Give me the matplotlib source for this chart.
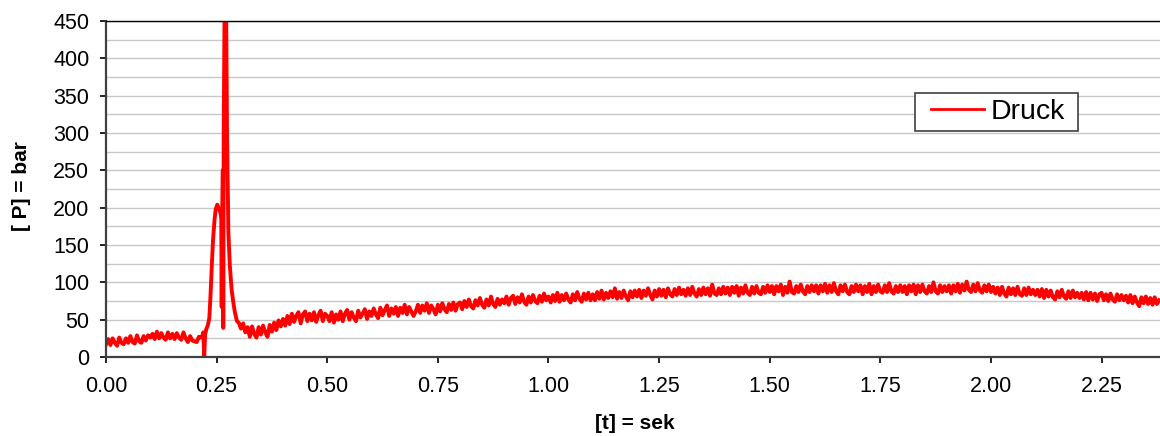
import numpy as np
import matplotlib.pyplot as plt
from matplotlib.patches import Rectangle

plt.rcParams['font.family'] = ['Liberation Sans', 'DejaVu Sans']

# pressure before ignition, t = 0.000 .. 0.215 (step 0.005)
pre_p = [17, 24, 16, 25, 19, 15, 26, 19, 17, 25, 19, 28, 20, 18, 29, 21, 19, 28, 22, 29,
         26, 31, 24, 34, 25, 32, 26, 23, 33, 25, 31, 24, 32, 26, 23, 33, 25, 20, 28, 22,
         21, 20, 27, 26]

# pressure peak region, irregular sampling
spike_t = [0.218, 0.220, 0.222, 0.224, 0.227, 0.230, 0.2335, 0.236, 0.239, 0.242,
           0.2455, 0.248, 0.2515, 0.254, 0.2566, 0.259, 0.2605, 0.2615, 0.2625, 0.2640,
           0.2650, 0.2660, 0.2680, 0.2715, 0.2735, 0.2766, 0.280, 0.284, 0.288, 0.2916,
           0.296]
spike_p = [29, 33, 1, 30, 38, 42, 52, 80, 121, 158,
           185, 198, 204, 200, 197, 192, 185, 67, 185, 250,
           39, 300, 470, 470, 300, 166, 121, 90, 72, 59,
           48]

# pressure after the peak, t = 0.300 .. 2.380 (step 0.005)
post_p = [46, 38, 45, 33, 40, 27, 41, 31, 26, 40, 30, 42, 33, 27, 43, 34, 46, 36, 49, 41,
          51, 42, 55, 44, 58, 47, 55, 60, 45, 57, 61, 48, 58, 49, 60, 47, 56, 62, 48, 58,
          55, 48, 60, 46, 57, 50, 61, 48, 58, 63, 50, 60, 53, 48, 62, 53, 58, 64, 51, 61,
          55, 65, 57, 52, 66, 56, 63, 69, 55, 65, 58, 67, 55, 66, 59, 70, 57, 67, 61, 55,
          61, 70, 59, 69, 62, 72, 59, 69, 64, 57, 70, 61, 72, 64, 60, 71, 63, 73, 62, 71,
          73, 64, 75, 67, 77, 68, 65, 76, 69, 79, 70, 66, 77, 69, 81, 71, 67, 78, 70, 77,
          72, 81, 70, 79, 82, 71, 80, 73, 84, 74, 70, 81, 73, 83, 75, 72, 82, 74, 85, 76,
          81, 73, 83, 75, 86, 74, 83, 76, 85, 77, 73, 84, 76, 87, 78, 74, 85, 77, 86, 76,
          84, 76, 87, 78, 89, 77, 86, 79, 88, 80, 92, 78, 87, 79, 89, 81, 76, 88, 80, 89,
          81, 90, 79, 89, 82, 92, 83, 77, 89, 81, 91, 82, 90, 80, 92, 84, 81, 91, 83, 93,
          84, 90, 82, 92, 83, 94, 85, 81, 91, 83, 93, 84, 92, 82, 97, 85, 83, 92, 84, 94,
          85, 93, 83, 94, 86, 95, 82, 93, 85, 96, 86, 83, 94, 85, 95, 86, 84, 94, 86, 96,
          87, 95, 84, 95, 88, 97, 83, 94, 86, 101, 87, 85, 95, 87, 97, 88, 84, 95, 87, 96,
          88, 96, 85, 96, 88, 98, 86, 96, 87, 99, 88, 84, 96, 88, 97, 87, 84, 95, 87, 97,
          88, 96, 84, 95, 87, 98, 84, 95, 87, 97, 88, 86, 96, 87, 99, 88, 85, 95, 87, 96,
          87, 95, 84, 96, 88, 97, 84, 96, 87, 97, 88, 85, 95, 87, 100, 88, 85, 96, 87, 95,
          88, 96, 85, 96, 88, 98, 86, 97, 89, 101, 90, 87, 97, 88, 99, 89, 86, 96, 88, 97,
          87, 94, 85, 93, 83, 94, 85, 81, 93, 84, 92, 83, 94, 84, 82, 92, 83, 93, 84, 90,
          83, 90, 81, 91, 79, 90, 81, 89, 80, 77, 88, 80, 90, 81, 78, 88, 79, 89, 80, 86,
          79, 86, 77, 87, 76, 86, 77, 85, 75, 84, 86, 76, 84, 75, 85, 77, 74, 84, 76, 83,
          76, 82, 73, 83, 72, 81, 73, 68, 80, 72, 81, 71, 79, 70, 80, 71, 76]

pre_t = np.round(0.005 * np.arange(len(pre_p)), 4)
post_t = np.round(0.300 + 0.005 * np.arange(len(post_p)), 4)

t = np.concatenate([pre_t, spike_t, post_t])
p = np.concatenate([pre_p, spike_p, post_p])

W, H = 1160, 436
fig = plt.figure(figsize=(W / 100, H / 100), dpi=100)
ax = fig.add_axes([106 / W, 1 - 357 / H, 1 - 106 / W, 336 / H])

ax.plot(t, p, color='#ff0000', linewidth=2.8, label='Druck')

ax.set_xlim(0, 2.382)
ax.set_ylim(0, 450)
ax.set_xticks(np.arange(0, 2.26, 0.25))
ax.set_xticklabels(['%.2f' % v for v in np.arange(0, 2.26, 0.25)])
ax.set_yticks(np.arange(0, 451, 50))
ax.set_yticks(np.arange(0, 451, 25), minor=True)
ax.grid(True, which='both', axis='y', color='#c8c8c8', linewidth=1.0)
ax.set_axisbelow(True)
ax.tick_params(axis='y', which='minor', length=0)
ax.tick_params(axis='both', which='major', labelsize=15.5, colors='#000000',
               length=4, width=1.2, direction='out')
ax.tick_params(axis='y', pad=8)
ax.tick_params(axis='x', pad=10)

ax.spines['right'].set_visible(False)
ax.spines['top'].set_color('#000000')
ax.spines['top'].set_linewidth(1.0)
ax.spines['left'].set_color('#404040')
ax.spines['left'].set_linewidth(1.6)
ax.spines['bottom'].set_color('#404040')
ax.spines['bottom'].set_linewidth(1.6)

fig.text(22 / W, 1 - 186 / H, '[ P] = bar', rotation=90, fontsize=15,
         fontweight='bold', ha='center', va='center')
fig.text(635 / W, 1 - 423 / H, '[t] = sek', fontsize=15,
         fontweight='bold', ha='center', va='center')

# legend box drawn separately so the padding matches the original
box = Rectangle((915 / W, 1 - 131 / H), 163 / W, 38 / H, transform=fig.transFigure,
                facecolor='white', edgecolor='#404040', linewidth=1.2,
                clip_on=False, zorder=4)
ax.add_patch(box)
leg = ax.legend(loc='center left', bbox_to_anchor=(931 / W, 1 - 112 / H),
                bbox_transform=fig.transFigure, fontsize=20.5, frameon=False,
                borderaxespad=0, borderpad=0, handlelength=1.86,
                handletextpad=0.22)
leg.set_zorder(5)
leg.get_lines()[0].set_linewidth(2.0)

plt.savefig('out.png', dpi=100)
